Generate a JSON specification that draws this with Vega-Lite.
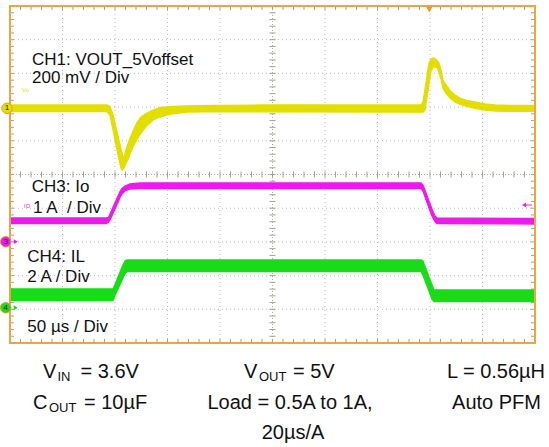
{
  "$schema": "https://vega.github.io/schema/vega-lite/v6.json",
  "width": 549,
  "height": 447,
  "autosize": {"type": "none"},
  "padding": 0,
  "background": "white",
  "config": {"view": {"stroke": null}, "font": "Liberation Sans"},
  "datasets": {
    "gx": [{"t":50},{"t":100},{"t":150},{"t":200},{"t":300},{"t":350},{"t":400},{"t":450}],
    "gy": [{"v":-4},{"v":-3},{"v":-2},{"v":-1},{"v":1},{"v":2},{"v":3},{"v":4}],
    "ctr": [{"t":250,"v":0}],
    "mx": [{"t":0},{"t":10},{"t":20},{"t":30},{"t":40},{"t":50},{"t":60},{"t":70},{"t":80},{"t":90},{"t":100},{"t":110},{"t":120},{"t":130},{"t":140},{"t":150},{"t":160},{"t":170},{"t":180},{"t":190},{"t":200},{"t":210},{"t":220},{"t":230},{"t":240},{"t":250},{"t":260},{"t":270},{"t":280},{"t":290},{"t":300},{"t":310},{"t":320},{"t":330},{"t":340},{"t":350},{"t":360},{"t":370},{"t":380},{"t":390},{"t":400},{"t":410},{"t":420},{"t":430},{"t":440},{"t":450},{"t":460},{"t":470},{"t":480},{"t":490},{"t":500}],
    "my": [{"v":-5},{"v":-4.8},{"v":-4.6},{"v":-4.4},{"v":-4.2},{"v":-4},{"v":-3.8},{"v":-3.6},{"v":-3.4},{"v":-3.2},{"v":-3},{"v":-2.8},{"v":-2.6},{"v":-2.4},{"v":-2.2},{"v":-2},{"v":-1.8},{"v":-1.6},{"v":-1.4},{"v":-1.2},{"v":-1},{"v":-0.8},{"v":-0.6},{"v":-0.4},{"v":-0.2},{"v":0},{"v":0.2},{"v":0.4},{"v":0.6},{"v":0.8},{"v":1},{"v":1.2},{"v":1.4},{"v":1.6},{"v":1.8},{"v":2},{"v":2.2},{"v":2.4},{"v":2.6},{"v":2.8},{"v":3},{"v":3.2},{"v":3.4},{"v":3.6},{"v":3.8},{"v":4},{"v":4.2},{"v":4.4},{"v":4.6},{"v":4.8},{"v":5}],
    "trace": [
      {"ch":"CH1","t":0,"hi":2.062,"lo":1.870},
      {"ch":"CH1","t":92.38,"hi":2.062,"lo":1.870},
      {"ch":"CH1","t":95.24,"hi":2.018,"lo":1.748},
      {"ch":"CH1","t":98.10,"hi":1.766,"lo":1.320},
      {"ch":"CH1","t":100.95,"hi":1.380,"lo":0.887},
      {"ch":"CH1","t":103.81,"hi":1.009,"lo":0.460},
      {"ch":"CH1","t":105.71,"hi":0.757,"lo":0.178},
      {"ch":"CH1","t":107.14,"hi":0.579,"lo":0.134},
      {"ch":"CH1","t":108.57,"hi":0.490,"lo":0.193},
      {"ch":"CH1","t":110.48,"hi":0.742,"lo":0.326},
      {"ch":"CH1","t":113.33,"hi":0.994,"lo":0.528},
      {"ch":"CH1","t":117.14,"hi":1.291,"lo":0.825},
      {"ch":"CH1","t":120.95,"hi":1.543,"lo":1.039},
      {"ch":"CH1","t":124.76,"hi":1.706,"lo":1.231},
      {"ch":"CH1","t":129.52,"hi":1.810,"lo":1.424},
      {"ch":"CH1","t":136.19,"hi":1.914,"lo":1.617},
      {"ch":"CH1","t":142.86,"hi":1.988,"lo":1.706},
      {"ch":"CH1","t":149.52,"hi":2.003,"lo":1.766},
      {"ch":"CH1","t":157.14,"hi":2.018,"lo":1.810},
      {"ch":"CH1","t":168.57,"hi":2.033,"lo":1.855},
      {"ch":"CH1","t":197.14,"hi":2.047,"lo":1.870},
      {"ch":"CH1","t":238.10,"hi":2.062,"lo":1.860},
      {"ch":"CH1","t":391.43,"hi":2.062,"lo":1.850},
      {"ch":"CH1","t":393.33,"hi":2.160,"lo":1.850},
      {"ch":"CH1","t":395.24,"hi":2.537,"lo":1.914},
      {"ch":"CH1","t":397.14,"hi":2.923,"lo":2.300},
      {"ch":"CH1","t":399.05,"hi":3.300,"lo":2.685},
      {"ch":"CH1","t":400.95,"hi":3.427,"lo":3.071},
      {"ch":"CH1","t":402.86,"hi":3.457,"lo":3.190},
      {"ch":"CH1","t":404.76,"hi":3.442,"lo":3.190},
      {"ch":"CH1","t":406.67,"hi":3.383,"lo":3.175},
      {"ch":"CH1","t":408.57,"hi":3.309,"lo":3.042},
      {"ch":"CH1","t":410.48,"hi":3.101,"lo":2.834},
      {"ch":"CH1","t":412.38,"hi":2.804,"lo":2.558},
      {"ch":"CH1","t":415.24,"hi":2.656,"lo":2.418},
      {"ch":"CH1","t":419.05,"hi":2.493,"lo":2.270},
      {"ch":"CH1","t":423.81,"hi":2.359,"lo":2.151},
      {"ch":"CH1","t":428.57,"hi":2.270,"lo":2.077},
      {"ch":"CH1","t":435.24,"hi":2.196,"lo":2.018},
      {"ch":"CH1","t":442.86,"hi":2.151,"lo":1.964},
      {"ch":"CH1","t":452.38,"hi":2.092,"lo":1.914},
      {"ch":"CH1","t":461.90,"hi":2.062,"lo":1.884},
      {"ch":"CH1","t":476.19,"hi":2.047,"lo":1.875},
      {"ch":"CH1","t":500,"hi":2.047,"lo":1.875},
      {"ch":"CH3","t":0,"hi":-1.291,"lo":-1.454},
      {"ch":"CH3","t":91.43,"hi":-1.291,"lo":-1.454},
      {"ch":"CH3","t":93.81,"hi":-1.276,"lo":-1.424},
      {"ch":"CH3","t":97.14,"hi":-1.042,"lo":-1.220},
      {"ch":"CH3","t":100.95,"hi":-0.774,"lo":-0.953},
      {"ch":"CH3","t":104.76,"hi":-0.504,"lo":-0.682},
      {"ch":"CH3","t":106.67,"hi":-0.415,"lo":-0.579},
      {"ch":"CH3","t":109.52,"hi":-0.341,"lo":-0.490},
      {"ch":"CH3","t":114.29,"hi":-0.282,"lo":-0.430},
      {"ch":"CH3","t":123.81,"hi":-0.252,"lo":-0.415},
      {"ch":"CH3","t":391.43,"hi":-0.252,"lo":-0.415},
      {"ch":"CH3","t":393.33,"hi":-0.312,"lo":-0.490},
      {"ch":"CH3","t":396.19,"hi":-0.543,"lo":-0.751},
      {"ch":"CH3","t":399.05,"hi":-0.786,"lo":-0.994},
      {"ch":"CH3","t":401.90,"hi":-1.024,"lo":-1.231},
      {"ch":"CH3","t":404.76,"hi":-1.231,"lo":-1.395},
      {"ch":"CH3","t":406.67,"hi":-1.291,"lo":-1.454},
      {"ch":"CH3","t":500,"hi":-1.306,"lo":-1.469},
      {"ch":"CH4","t":0,"hi":-3.398,"lo":-3.739},
      {"ch":"CH4","t":98.10,"hi":-3.398,"lo":-3.739},
      {"ch":"CH4","t":100,"hi":-3.264,"lo":-3.593},
      {"ch":"CH4","t":102.86,"hi":-3.042,"lo":-3.398},
      {"ch":"CH4","t":105.71,"hi":-2.828,"lo":-3.205},
      {"ch":"CH4","t":107.62,"hi":-2.686,"lo":-3.074},
      {"ch":"CH4","t":109.52,"hi":-2.567,"lo":-2.944},
      {"ch":"CH4","t":111.43,"hi":-2.537,"lo":-2.878},
      {"ch":"CH4","t":391.43,"hi":-2.537,"lo":-2.878},
      {"ch":"CH4","t":393.33,"hi":-2.567,"lo":-2.988},
      {"ch":"CH4","t":396.19,"hi":-2.801,"lo":-3.226},
      {"ch":"CH4","t":399.05,"hi":-3.039,"lo":-3.460},
      {"ch":"CH4","t":401.90,"hi":-3.276,"lo":-3.697},
      {"ch":"CH4","t":403.81,"hi":-3.427,"lo":-3.769},
      {"ch":"CH4","t":409.52,"hi":-3.427,"lo":-3.775},
      {"ch":"CH4","t":500,"hi":-3.427,"lo":-3.775}
    ],
    "labels": [
      {"text":"CH1: VOUT_5Voffset","t":20.95,"v":3.249},
      {"text":"200 mV / Div","t":20.95,"v":2.706},
      {"text":"CH3: Io","t":20.67,"v":-0.510},
      {"text":"1 A\u00a0 / Div","t":21.9,"v":-1.134},
      {"text":"CH4: IL","t":16.48,"v":-2.588},
      {"text":"2 A / Div","t":16.48,"v":-3.181},
      {"text":"50 µs / Div","t":16.48,"v":-4.665}
    ],
    "tiny": [
      {"text":"Vo","t":11.4,"v":2.448,"ch":"CH1"},
      {"text":"IO","t":13.3,"v":-0.994,"ch":"CH3"}
    ],
    "notes": [
      {"kind":"m","text":"V","t":31.43,"v":-6.039},
      {"kind":"s","text":"IN","t":45.2,"v":-6.128},
      {"kind":"m","text":"= 3.6V","t":67.14,"v":-6.039},
      {"kind":"m","text":"C","t":21.9,"v":-6.958},
      {"kind":"s","text":"OUT","t":37.14,"v":-7.047},
      {"kind":"m","text":"= 10µF","t":70.48,"v":-6.958},
      {"kind":"m","text":"V","t":222.86,"v":-6.039},
      {"kind":"s","text":"OUT","t":237.14,"v":-6.128},
      {"kind":"m","text":"= 5V","t":269.52,"v":-6.039},
      {"kind":"c","text":"Load = 0.5A to 1A,","t":266.67,"v":-6.958},
      {"kind":"c","text":"20µs/A","t":269.52,"v":-7.834},
      {"kind":"c","text":"L = 0.56µH","t":462.86,"v":-6.039},
      {"kind":"c","text":"Auto PFM","t":463.33,"v":-6.958}
    ],
    "frame": [{"t0":0,"t1":500,"v0":-5,"v1":5}],
    "markers": [
      {"ch":"CH1","n":"1","t":-2.86,"v":1.964},
      {"ch":"CH3","n":"3","t":-4.1,"v":-1.994},
      {"ch":"CH4","n":"4","t":-4.1,"v":-3.953}
    ],
    "arrows": [
      {"ch":"CH3","t":5.5,"v":-1.994},
      {"ch":"CH4","t":5.5,"v":-3.953}
    ],
    "trig": [{"t":399.3,"v":4.9}],
    "lvl": [{"ch":"CH3","t":489.5,"t2":497,"v":-0.905}]
  },
  "layer": [
    {"data":{"name":"gx"},"mark":{"type":"rule","color":"#bdbdbd","strokeDash":[1,3],"strokeWidth":1},
     "encoding":{"x":{"field":"t","type":"quantitative","scale":{"domain":[-9.524,513.333],"nice":false,"zero":false},"axis":null},
                 "y":{"datum":-5,"type":"quantitative","scale":{"domain":[-8.086,5.178],"nice":false,"zero":false},"axis":null},"y2":{"datum":5}}},
    {"data":{"name":"gy"},"mark":{"type":"rule","color":"#bdbdbd","strokeDash":[1,3],"strokeWidth":1},
     "encoding":{"y":{"field":"v","type":"quantitative","scale":{"domain":[-8.086,5.178],"nice":false,"zero":false},"axis":null},
                 "x":{"datum":0,"type":"quantitative","scale":{"domain":[-9.524,513.333],"nice":false,"zero":false},"axis":null},"x2":{"datum":500}}},
    {"data":{"name":"ctr"},"mark":{"type":"rule","color":"#b3ab9c","strokeDash":[1,2],"strokeWidth":1},
     "encoding":{"x":{"field":"t","type":"quantitative","scale":{"domain":[-9.524,513.333],"nice":false,"zero":false},"axis":null},
                 "y":{"datum":-5,"type":"quantitative","scale":{"domain":[-8.086,5.178],"nice":false,"zero":false},"axis":null},"y2":{"datum":5}}},
    {"data":{"name":"ctr"},"mark":{"type":"rule","color":"#b3ab9c","strokeDash":[1,2],"strokeWidth":1},
     "encoding":{"y":{"field":"v","type":"quantitative","scale":{"domain":[-8.086,5.178],"nice":false,"zero":false},"axis":null},
                 "x":{"datum":0,"type":"quantitative","scale":{"domain":[-9.524,513.333],"nice":false,"zero":false},"axis":null},"x2":{"datum":500}}},
    {"data":{"name":"mx"},"mark":{"type":"rule","color":"#a8a090","strokeWidth":1},
     "encoding":{"x":{"field":"t","type":"quantitative","scale":{"domain":[-9.524,513.333],"nice":false,"zero":false},"axis":null},
                 "y":{"datum":5,"type":"quantitative","scale":{"domain":[-8.086,5.178],"nice":false,"zero":false},"axis":null},"y2":{"datum":4.88}}},
    {"data":{"name":"mx"},"mark":{"type":"rule","color":"#a8a090","strokeWidth":1},
     "encoding":{"x":{"field":"t","type":"quantitative","scale":{"domain":[-9.524,513.333],"nice":false,"zero":false},"axis":null},
                 "y":{"datum":-5,"type":"quantitative","scale":{"domain":[-8.086,5.178],"nice":false,"zero":false},"axis":null},"y2":{"datum":-4.88}}},
    {"data":{"name":"mx"},"mark":{"type":"rule","color":"#a8a090","strokeWidth":1},
     "encoding":{"x":{"field":"t","type":"quantitative","scale":{"domain":[-9.524,513.333],"nice":false,"zero":false},"axis":null},
                 "y":{"datum":0.09,"type":"quantitative","scale":{"domain":[-8.086,5.178],"nice":false,"zero":false},"axis":null},"y2":{"datum":-0.09}}},
    {"data":{"name":"my"},"mark":{"type":"rule","color":"#a8a090","strokeWidth":1},
     "encoding":{"y":{"field":"v","type":"quantitative","scale":{"domain":[-8.086,5.178],"nice":false,"zero":false},"axis":null},
                 "x":{"datum":0,"type":"quantitative","scale":{"domain":[-9.524,513.333],"nice":false,"zero":false},"axis":null},"x2":{"datum":3.8}}},
    {"data":{"name":"my"},"mark":{"type":"rule","color":"#a8a090","strokeWidth":1},
     "encoding":{"y":{"field":"v","type":"quantitative","scale":{"domain":[-8.086,5.178],"nice":false,"zero":false},"axis":null},
                 "x":{"datum":500,"type":"quantitative","scale":{"domain":[-9.524,513.333],"nice":false,"zero":false},"axis":null},"x2":{"datum":496.2}}},
    {"data":{"name":"my"},"mark":{"type":"rule","color":"#a8a090","strokeWidth":1},
     "encoding":{"y":{"field":"v","type":"quantitative","scale":{"domain":[-8.086,5.178],"nice":false,"zero":false},"axis":null},
                 "x":{"datum":247.1,"type":"quantitative","scale":{"domain":[-9.524,513.333],"nice":false,"zero":false},"axis":null},"x2":{"datum":252.9}}},
    {"data":{"name":"trace"},"mark":{"type":"area","opacity":1},
     "encoding":{"x":{"field":"t","type":"quantitative","scale":{"domain":[-9.524,513.333],"nice":false,"zero":false},"axis":null},
                 "y":{"field":"hi","type":"quantitative","scale":{"domain":[-8.086,5.178],"nice":false,"zero":false},"axis":null},
                 "y2":{"field":"lo"},
                 "color":{"field":"ch","type":"nominal","scale":{"domain":["CH1","CH3","CH4"],"range":["#E3DE00","#EC1AEC","#18DC18"]},"legend":null}}},
    {"data":{"name":"trace"},"mark":{"type":"line","strokeWidth":1.3},
     "encoding":{"x":{"field":"t","type":"quantitative","scale":{"domain":[-9.524,513.333],"nice":false,"zero":false},"axis":null},
                 "y":{"field":"hi","type":"quantitative","scale":{"domain":[-8.086,5.178],"nice":false,"zero":false},"axis":null},
                 "color":{"field":"ch","type":"nominal","scale":{"domain":["CH1","CH3","CH4"],"range":["#E3DE00","#EC1AEC","#18DC18"]},"legend":null}}},
    {"data":{"name":"trace"},"mark":{"type":"line","strokeWidth":1.3},
     "encoding":{"x":{"field":"t","type":"quantitative","scale":{"domain":[-9.524,513.333],"nice":false,"zero":false},"axis":null},
                 "y":{"field":"lo","type":"quantitative","scale":{"domain":[-8.086,5.178],"nice":false,"zero":false},"axis":null},
                 "color":{"field":"ch","type":"nominal","scale":{"domain":["CH1","CH3","CH4"],"range":["#E3DE00","#EC1AEC","#18DC18"]},"legend":null}}},
    {"data":{"name":"labels"},"mark":{"type":"text","align":"left","baseline":"alphabetic","fontSize":17,"color":"#111111"},
     "encoding":{"x":{"field":"t","type":"quantitative","scale":{"domain":[-9.524,513.333],"nice":false,"zero":false},"axis":null},
                 "y":{"field":"v","type":"quantitative","scale":{"domain":[-8.086,5.178],"nice":false,"zero":false},"axis":null},
                 "text":{"field":"text"}}},
    {"data":{"name":"tiny"},"mark":{"type":"text","align":"left","baseline":"alphabetic","fontSize":6},
     "encoding":{"x":{"field":"t","type":"quantitative","scale":{"domain":[-9.524,513.333],"nice":false,"zero":false},"axis":null},
                 "y":{"field":"v","type":"quantitative","scale":{"domain":[-8.086,5.178],"nice":false,"zero":false},"axis":null},
                 "text":{"field":"text"},
                 "color":{"field":"ch","type":"nominal","scale":{"domain":["CH1","CH3","CH4"],"range":["#E3DE00","#EC1AEC","#18DC18"]},"legend":null}}},
    {"data":{"name":"notes"},"transform":[{"filter":"datum.kind === 'm'"}],"mark":{"type":"text","align":"left","baseline":"alphabetic","fontSize":20,"color":"#111111"},
     "encoding":{"x":{"field":"t","type":"quantitative","scale":{"domain":[-9.524,513.333],"nice":false,"zero":false},"axis":null},
                 "y":{"field":"v","type":"quantitative","scale":{"domain":[-8.086,5.178],"nice":false,"zero":false},"axis":null},
                 "text":{"field":"text"}}},
    {"data":{"name":"notes"},"transform":[{"filter":"datum.kind === 's'"}],"mark":{"type":"text","align":"left","baseline":"alphabetic","fontSize":13,"color":"#111111"},
     "encoding":{"x":{"field":"t","type":"quantitative","scale":{"domain":[-9.524,513.333],"nice":false,"zero":false},"axis":null},
                 "y":{"field":"v","type":"quantitative","scale":{"domain":[-8.086,5.178],"nice":false,"zero":false},"axis":null},
                 "text":{"field":"text"}}},
    {"data":{"name":"notes"},"transform":[{"filter":"datum.kind === 'c'"}],"mark":{"type":"text","align":"center","baseline":"alphabetic","fontSize":20,"color":"#111111"},
     "encoding":{"x":{"field":"t","type":"quantitative","scale":{"domain":[-9.524,513.333],"nice":false,"zero":false},"axis":null},
                 "y":{"field":"v","type":"quantitative","scale":{"domain":[-8.086,5.178],"nice":false,"zero":false},"axis":null},
                 "text":{"field":"text"}}},
    {"data":{"name":"frame"},"mark":{"type":"rect","filled":false,"stroke":"#F2A33A","strokeWidth":2},
     "encoding":{"x":{"field":"t0","type":"quantitative","scale":{"domain":[-9.524,513.333],"nice":false,"zero":false},"axis":null},
                 "x2":{"field":"t1"},
                 "y":{"field":"v0","type":"quantitative","scale":{"domain":[-8.086,5.178],"nice":false,"zero":false},"axis":null},
                 "y2":{"field":"v1"}}},
    {"data":{"name":"arrows"},"mark":{"type":"point","shape":"triangle-right","filled":true,"size":22,"opacity":1},
     "encoding":{"x":{"field":"t","type":"quantitative","scale":{"domain":[-9.524,513.333],"nice":false,"zero":false},"axis":null},
                 "y":{"field":"v","type":"quantitative","scale":{"domain":[-8.086,5.178],"nice":false,"zero":false},"axis":null},
                 "color":{"field":"ch","type":"nominal","scale":{"domain":["CH1","CH3","CH4"],"range":["#E3DE00","#EC1AEC","#18DC18"]},"legend":null}}},
    {"data":{"name":"markers"},"mark":{"type":"point","shape":"circle","filled":true,"size":110,"opacity":1,"stroke":"#E0A030","strokeWidth":1},
     "encoding":{"x":{"field":"t","type":"quantitative","scale":{"domain":[-9.524,513.333],"nice":false,"zero":false},"axis":null},
                 "y":{"field":"v","type":"quantitative","scale":{"domain":[-8.086,5.178],"nice":false,"zero":false},"axis":null},
                 "color":{"field":"ch","type":"nominal","scale":{"domain":["CH1","CH3","CH4"],"range":["#E3DE00","#EC1AEC","#18DC18"]},"legend":null}}},
    {"data":{"name":"markers"},"mark":{"type":"text","align":"center","baseline":"middle","fontSize":8,"color":"#222222"},
     "encoding":{"x":{"field":"t","type":"quantitative","scale":{"domain":[-9.524,513.333],"nice":false,"zero":false},"axis":null},
                 "y":{"field":"v","type":"quantitative","scale":{"domain":[-8.086,5.178],"nice":false,"zero":false},"axis":null},
                 "text":{"field":"n"}}},
    {"data":{"name":"trig"},"mark":{"type":"point","shape":"triangle-down","filled":true,"size":45,"color":"#F29A1E","opacity":1},
     "encoding":{"x":{"field":"t","type":"quantitative","scale":{"domain":[-9.524,513.333],"nice":false,"zero":false},"axis":null},
                 "y":{"field":"v","type":"quantitative","scale":{"domain":[-8.086,5.178],"nice":false,"zero":false},"axis":null}}},
    {"data":{"name":"lvl"},"mark":{"type":"rule","color":"#EC1AEC","strokeWidth":1},
     "encoding":{"x":{"field":"t","type":"quantitative","scale":{"domain":[-9.524,513.333],"nice":false,"zero":false},"axis":null},
                 "x2":{"field":"t2"},
                 "y":{"field":"v","type":"quantitative","scale":{"domain":[-8.086,5.178],"nice":false,"zero":false},"axis":null}}},
    {"data":{"name":"lvl"},"mark":{"type":"point","shape":"triangle-left","filled":true,"size":22,"color":"#EC1AEC","opacity":1},
     "encoding":{"x":{"field":"t","type":"quantitative","scale":{"domain":[-9.524,513.333],"nice":false,"zero":false},"axis":null},
                 "y":{"field":"v","type":"quantitative","scale":{"domain":[-8.086,5.178],"nice":false,"zero":false},"axis":null}}}
  ]
}
